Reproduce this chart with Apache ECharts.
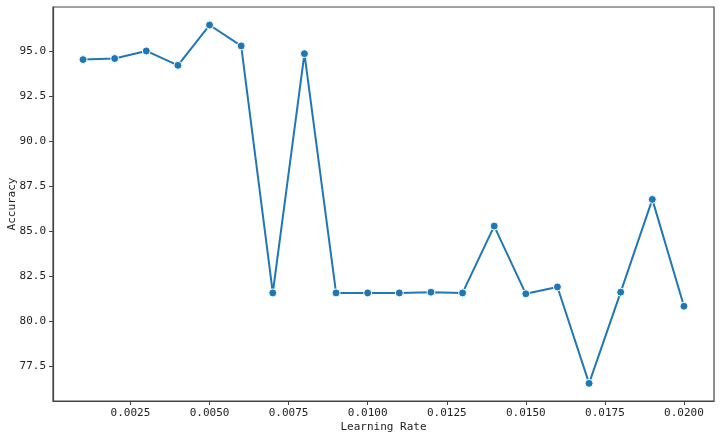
<!DOCTYPE html>
<html>
<head>
<meta charset="utf-8">
<script src="https://cdn.jsdelivr.net/npm/echarts@6/dist/echarts.min.js"></script>
<style>html,body{margin:0;padding:0;background:#fff}#c{width:722px;height:439px}</style>
</head>
<body>
<div id="c"></div>
<script>
const learningRates = [0.001,0.002,0.003,0.004,0.005,0.006,0.007,0.008,0.009,0.010,0.011,0.012,0.013,0.014,0.015,0.016,0.017,0.018,0.019,0.020];
const accuracy = [94.52,94.58,95.0,94.2,96.44,95.28,81.57,94.85,81.57,81.57,81.57,81.61,81.57,85.28,81.52,81.9,76.55,81.61,86.76,80.83];
const xTicks = [0.0025,0.0050,0.0075,0.0100,0.0125,0.0150,0.0175,0.0200];
const yTicks = [77.5,80.0,82.5,85.0,87.5,90.0,92.5,95.0];

const chart = echarts.init(document.getElementById('c'), null, {renderer:'canvas'});
const fontFam = '"DejaVu Sans Mono", monospace';
chart.setOption({
  animation:false,
  grid:{left:53,right:8,top:7,bottom:38,show:true,borderColor:'#444',borderWidth:1.2,containLabel:false,outerBoundsMode:'none'},
  xAxis:{
    type:'value', min:0.00005, max:0.02095,
    name:'Learning Rate', nameLocation:'middle', nameGap:21, nameMoveOverlap:false,
    nameTextStyle:{fontFamily:fontFam,fontSize:11,color:'#222'},
    axisLine:{show:true,lineStyle:{color:'#444',width:1.2}},
    axisTick:{show:true,length:4,inside:false,customValues:xTicks,lineStyle:{color:'#444'}},
    axisLabel:{customValues:xTicks,margin:7,fontFamily:fontFam,fontSize:11,color:'#222',
      formatter:v=>v.toFixed(4)},
    splitLine:{show:false}
  },
  yAxis:{
    type:'value', min:75.57, max:97.44,
    name:'Accuracy', nameLocation:'middle', nameGap:35, nameMoveOverlap:false,
    nameTextStyle:{fontFamily:fontFam,fontSize:11,color:'#222'},
    axisLine:{show:true,lineStyle:{color:'#444',width:1.2}},
    axisTick:{show:true,length:4,customValues:yTicks,lineStyle:{color:'#444'}},
    axisLabel:{customValues:yTicks,margin:7,fontFamily:fontFam,fontSize:11,color:'#222',
      formatter:v=>v.toFixed(1)},
    splitLine:{show:false}
  },
  series:[{
    type:'line',
    data:learningRates.map((x,i)=>[x,accuracy[i]]),
    symbol:'circle', symbolSize:8, showAllSymbol:true,
    lineStyle:{color:'#1f77b4',width:2},
    itemStyle:{color:'#1f77b4',borderColor:'#fff',borderWidth:1}
  }]
});
</script>
</body>
</html>
